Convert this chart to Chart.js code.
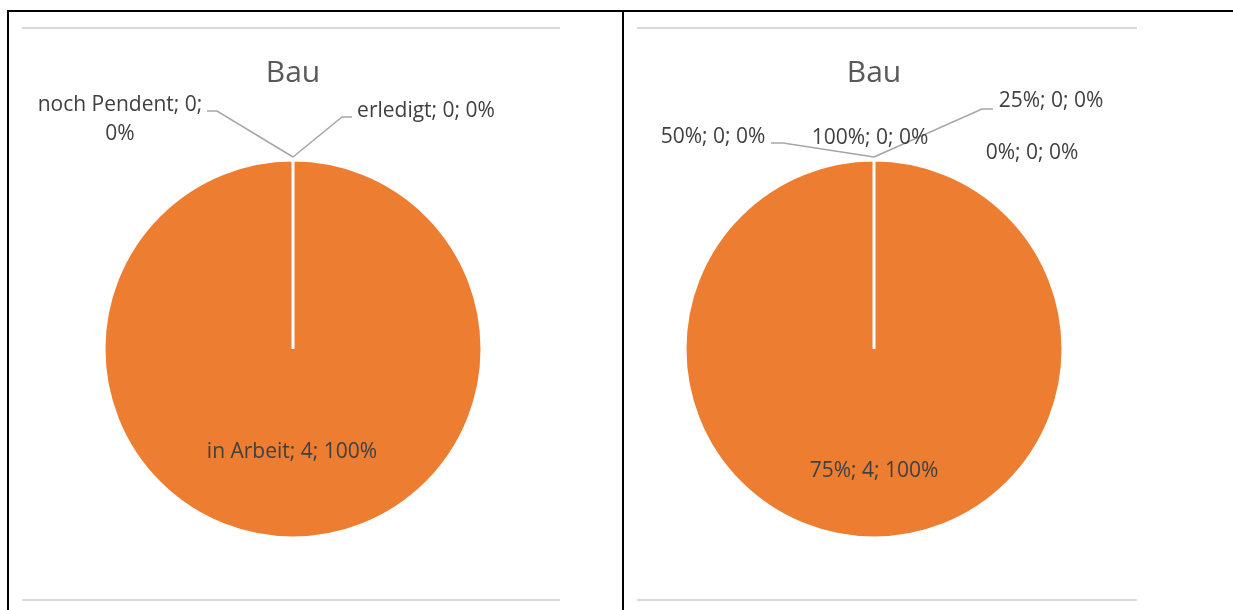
<!DOCTYPE html>
<html>
<head>
<meta charset="utf-8">
<script src="https://cdn.jsdelivr.net/npm/chart.js@4/dist/chart.umd.min.js"></script>
<style>
  html, body { margin: 0; padding: 0; background: #fff; }
  body { width: 1233px; height: 610px; overflow: hidden; position: relative; }
  .frame-top { position: absolute; left: 7px; top: 10px; width: 1226px; height: 2px; background: #000; }
  .frame-v { position: absolute; top: 10px; width: 2px; height: 600px; background: #000; }
  .box { position: absolute; top: 27px; height: 570px; border-top: 2px solid #d9d9d9; border-bottom: 2px solid #d9d9d9; }
  .box canvas { display: block; }
</style>
</head>
<body>
<div class="frame-top"></div>
<div class="frame-v" style="left:7px"></div>
<div class="frame-v" style="left:622px"></div>
<div class="box" style="left:22px;width:538px"><canvas id="chart-status"></canvas></div>
<div class="box" style="left:637px;width:500px"><canvas id="chart-progress"></canvas></div>

<script>
// --- Daten ---
var title = 'Bau';

var statusLabels = ['erledigt', 'in Arbeit', 'noch Pendent'];
var statusValues = [0, 4, 0];
var statusColors = ['#4472C4', '#ED7D31', '#A5A5A5'];

var progressLabels = ['25%', '0%', '75%', '50%', '100%'];
var progressValues = [0, 0, 4, 0, 0];
var progressColors = ['#4472C4', '#A5A5A5', '#ED7D31', '#FFC000', '#5B9BD5'];

// Position der Datenbeschriftungen (Canvas-Pixel), Knickpunkte der Führungslinien
var statusLabelPos = [
  { x: 404, y: 82, leader: [[330, 88], [320, 88]] },
  { x: 270, y: 423 },
  { x: 98, y: 76, wrap: true, leader: [[185, 82], [195, 82]] }
];
var progressLabelPos = [
  { x: 414, y: 72, leader: [[356, 80], [345, 80]] },
  { x: 395, y: 124 },
  { x: 237, y: 442 },
  { x: 76, y: 108, leader: [[134, 114], [146, 114]] },
  { x: 233, y: 109 }
];

var FONT = '"Open Sans", Lato, sans-serif';

/** Titel + Datenbeschriftungen im Excel-Stil */
var pieLabels = {
  id: 'pieLabels',
  afterDatasetsDraw: function(chart, args, opts) {
    var ctx = chart.ctx;
    var ds = chart.data.datasets[0];
    var meta = chart.getDatasetMeta(0);
    var total = ds.data.reduce(function(s, v) { return s + v; }, 0);
    var first = meta.data[0];

    ctx.save();
    ctx.textAlign = 'center';
    ctx.textBaseline = 'middle';
    ctx.font = '30px ' + FONT;
    ctx.fillStyle = '#595959';
    ctx.fillText(opts.title, first.x, opts.titleY);

    opts.layout.forEach(function(pos, i) {
      var arc = meta.data[i];
      var v = ds.data[i];
      var pct = total > 0 ? Math.round(v / total * 100) : 0;

      // Führungslinie zum Kreisrand
      if (pos.leader) {
        var a = arc.startAngle;
        var r = arc.outerRadius + 3;
        ctx.beginPath();
        ctx.strokeStyle = '#a6a6a6';
        ctx.lineWidth = 1.5;
        ctx.moveTo(pos.leader[0][0], pos.leader[0][1]);
        ctx.lineTo(pos.leader[1][0], pos.leader[1][1]);
        ctx.lineTo(arc.x + Math.cos(a) * r, arc.y + Math.sin(a) * r);
        ctx.stroke();
      }

      ctx.font = '21px ' + FONT;
      ctx.fillStyle = '#404040';
      var lbl = chart.data.labels[i];
      if (pos.wrap) {
        ctx.fillText(lbl + '; ' + v + ';', pos.x, pos.y);
        ctx.fillText(pct + '%', pos.x, pos.y + 29);
      } else {
        ctx.fillText(lbl + '; ' + v + '; ' + pct + '%', pos.x, pos.y);
      }
    });
    ctx.restore();
  }
};

function makePie(id, labels, values, colors, layout, padding) {
  return new Chart(document.getElementById(id), {
    type: 'pie',
    data: {
      labels: labels,
      datasets: [{
        data: values,
        backgroundColor: colors,
        borderColor: '#ffffff',
        borderWidth: 3
      }]
    },
    options: {
      responsive: true,
      maintainAspectRatio: false,
      animation: false,
      radius: 189,
      layout: { padding: padding },
      plugins: {
        legend: { display: false },
        tooltip: { enabled: false },
        pieLabels: { title: title, titleY: 44, layout: layout }
      }
    },
    plugins: [pieLabels]
  });
}

makePie('chart-status', statusLabels, statusValues, statusColors, statusLabelPos,
  { top: 80, bottom: 10, left: 4, right: 0 });
makePie('chart-progress', progressLabels, progressValues, progressColors, progressLabelPos,
  { top: 80, bottom: 10, left: 0, right: 26 });
</script>
</body>
</html>
